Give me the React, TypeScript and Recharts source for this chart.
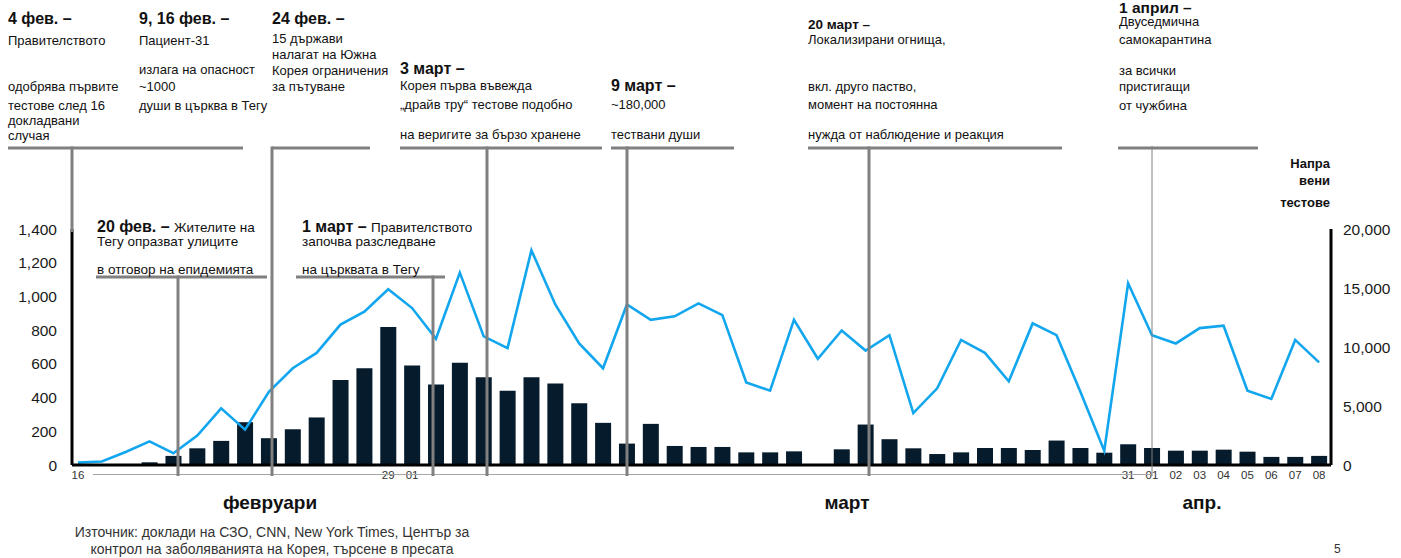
import { ComposedChart, Bar, Line, XAxis, YAxis } from 'recharts';

// daily categories, 16 Feb – 8 Apr 2020
const dates = [
  '16.02', '17.02', '18.02', '19.02', '20.02', '21.02', '22.02', '23.02', '24.02', '25.02',
  '26.02', '27.02', '28.02', '29.02',
  '01.03', '02.03', '03.03', '04.03', '05.03', '06.03', '07.03', '08.03', '09.03', '10.03',
  '11.03', '12.03', '13.03', '14.03', '15.03', '16.03', '17.03', '18.03', '19.03', '20.03',
  '21.03', '22.03', '23.03', '24.03', '25.03', '26.03', '27.03', '28.03', '29.03', '30.03',
  '31.03',
  '01.04', '02.04', '03.04', '04.04', '05.04', '06.04', '07.04', '08.04',
];

// new confirmed cases per day (left axis)
const newCases = [
  0, 0, 0, 16, 54, 99, 143, 254, 159, 212,
  282, 504, 574, 818,
  590, 477, 606, 520, 441, 520, 484, 367, 250, 127,
  244, 113, 107, 107, 75, 75, 81, 0, 93, 240,
  153, 99, 65, 75, 101, 101, 89, 145, 101, 73,
  123,
  101, 85, 85, 91, 79, 48, 48, 54,
];

// tests performed per day (right axis)
const testsDone = [
  200, 300, 1100, 2000, 1000, 2500, 4800, 3000, 6200, 8200,
  9500, 11900, 13000, 14900,
  13300, 10700, 16300, 10900, 9900, 18200, 13600, 10300, 8200, 13600,
  12300, 12600, 13700, 12700, 7000, 6300, 12300, 9000, 11400, 9700,
  11000, 4400, 6500, 10600, 9500, 7100, 12000, 11000, 6200, 1200,
  15400,
  11000, 10300, 11600, 11800, 6300, 5600, 10600, 8700,
];

const tickLabels: Record<string, string> = {
  '16.02': '16', '29.02': '29', '01.03': '01', '31.03': '31',
  '01.04': '01', '02.04': '02', '03.04': '03', '04.04': '04',
  '05.04': '05', '06.04': '06', '07.04': '07', '08.04': '08',
};

const casesTicks = [0, 200, 400, 600, 800, 1000, 1200, 1400];
const testsTicks = [0, 5000, 10000, 15000, 20000];

const data = dates.map((date, i) => ({ date, cases: newCases[i], tests: testsDone[i] }));

const FONT = "'Liberation Sans', Arial, Helvetica, sans-serif";
const GREY = '#808080';

type Note = { x: number; y: number; text: string; lead?: string; bold?: boolean; size?: number; anchor?: 'start' | 'end' | 'middle' };

// event notes above the chart
const notes: Note[] = [
  { x: 8, y: 24, text: '4 фев. –', bold: true, size: 16 },
  { x: 8, y: 44.5, text: 'Правителството' },
  { x: 8, y: 90.5, text: 'одобрява първите' },
  { x: 8, y: 109.5, text: 'тестове след 16' },
  { x: 8, y: 124.5, text: 'докладвани' },
  { x: 8, y: 139.5, text: 'случая' },

  { x: 139, y: 24, text: '9, 16 фев. –', bold: true, size: 16 },
  { x: 139, y: 44.5, text: 'Пациент-31' },
  { x: 139, y: 73.5, text: 'излага на опасност' },
  { x: 139, y: 90.5, text: '~1000' },
  { x: 139, y: 109.5, text: 'души в църква в Тегу' },

  { x: 272, y: 24, text: '24 фев. –', bold: true, size: 16 },
  { x: 272, y: 42.5, text: '15 държави' },
  { x: 272, y: 58.5, text: 'налагат на Южна' },
  { x: 272, y: 74.5, text: 'Корея ограничения' },
  { x: 272, y: 90.5, text: 'за пътуване' },

  { x: 400, y: 73.5, text: '3 март –', bold: true, size: 16 },
  { x: 400, y: 89.5, text: 'Корея първа въвежда' },
  { x: 400, y: 108.5, text: '„драйв тру“ тестове подобно' },
  { x: 400, y: 138.5, text: 'на веригите за бързо хранене' },

  { x: 611, y: 90.5, text: '9 март –', bold: true, size: 16 },
  { x: 611, y: 108.5, text: '~180,000' },
  { x: 611, y: 138.5, text: 'тествани души' },

  { x: 808, y: 29, text: '20 март –', bold: true, size: 13.5 },
  { x: 808, y: 44, text: 'Локализирани огнища,' },
  { x: 808, y: 90.5, text: 'вкл. друго паство,' },
  { x: 808, y: 108.5, text: 'момент на постоянна' },
  { x: 808, y: 138.5, text: 'нужда от наблюдение и реакция' },

  { x: 1119, y: 12.5, text: '1 април –', bold: true, size: 15.5 },
  { x: 1119, y: 26, text: 'Двуседмична' },
  { x: 1119, y: 43.5, text: 'самокарантина' },
  { x: 1119, y: 74.5, text: 'за всички' },
  { x: 1119, y: 90.5, text: 'пристигащи' },
  { x: 1119, y: 109.5, text: 'от чужбина' },

  // notes inside the plot
  { x: 97, y: 231.5, lead: '20 фев. – ', text: 'Жителите на', size: 13.5 },
  { x: 97, y: 245.5, text: 'Тегу опразват улиците', size: 13.5 },
  { x: 97, y: 273.5, text: 'в отговор на епидемията', size: 13.5 },
  { x: 302, y: 231.5, lead: '1 март – ', text: 'Правителството', size: 13.5 },
  { x: 302, y: 245.5, text: 'започва разследване', size: 13.5 },
  { x: 302, y: 273.5, text: 'на църквата в Тегу', size: 13.5 },

  // right axis title
  { x: 1330, y: 167.5, text: 'Напра', bold: true, anchor: 'end' },
  { x: 1330, y: 184.5, text: 'вени', bold: true, anchor: 'end' },
  { x: 1330, y: 206.5, text: 'тестове', bold: true, anchor: 'end' },
];

// bracket lines and their stems pointing at the dates
const brackets = [
  { x1: 8, x2: 243, y: 148 },
  { x1: 272, x2: 370, y: 148 },
  { x1: 400, x2: 602, y: 148 },
  { x1: 611, x2: 734, y: 148 },
  { x1: 808, x2: 1062, y: 148 },
  { x1: 1118, x2: 1258, y: 148 },
  { x1: 96, x2: 267, y: 277 },
  { x1: 296, x2: 445, y: 277 },
];
const stems = [
  { x: 72, y1: 146.5, y2: 232, w: 3 },
  { x: 178, y1: 275.5, y2: 476, w: 3 },
  { x: 272, y1: 146.5, y2: 476, w: 3 },
  { x: 433, y1: 275.5, y2: 476, w: 3 },
  { x: 487, y1: 146.5, y2: 476, w: 3 },
  { x: 627, y1: 146.5, y2: 476, w: 3 },
  { x: 869, y1: 146.5, y2: 476, w: 3 },
  { x: 1152, y1: 146, y2: 476, w: 1 },
];

const months = [
  { x: 270, text: 'февруари' },
  { x: 847, text: 'март' },
  { x: 1202, text: 'апр.' },
];

const fmt = (v: number) => v.toLocaleString('en-US');

function DateTick(props: any) {
  const { x, y, payload } = props;
  const label = tickLabels[payload.value];
  if (!label) return null;
  return (
    <text x={x} y={y + 10} textAnchor="middle" fontSize={11.5} fill="#333" fontFamily={FONT}>
      {label}
    </text>
  );
}

export default function App() {
  return (
    <div style={{ position: 'absolute', left: 0, top: 0, width: 1401, height: 558, background: '#fff', fontFamily: FONT }}>
      <ComposedChart width={1401} height={558} data={data} margin={{ top: 229, right: 0, bottom: 73, left: 0 }}>
        <XAxis
          dataKey="date"
          height={20}
          padding={{ left: -6, right: 0 }}
          axisLine={{ stroke: '#000', strokeWidth: 3 }}
          tickLine={false}
          tickSize={0}
          tickMargin={4}
          interval={0}
          tick={<DateTick />}
        />
        <YAxis
          yAxisId="cases"
          width={72}
          domain={[0, 1400]}
          ticks={casesTicks}
          tickFormatter={fmt}
          axisLine={{ stroke: '#000', strokeWidth: 3 }}
          tickLine={false}
          tickSize={0}
          tickMargin={15}
          tick={{ fill: '#1a1a1a', fontSize: 15.5, fontFamily: FONT }}
        />
        <YAxis
          yAxisId="tests"
          orientation="right"
          width={70}
          domain={[0, 20000]}
          ticks={testsTicks}
          tickFormatter={fmt}
          axisLine={{ stroke: '#000', strokeWidth: 3 }}
          tickLine={false}
          tickSize={0}
          tickMargin={12}
          tick={{ fill: '#1a1a1a', fontSize: 15.5, fontFamily: FONT, textAnchor: 'start' }}
        />
        <Bar yAxisId="cases" dataKey="cases" fill="#061b2b" barSize={16} isAnimationActive={false} />
        <Line
          yAxisId="tests"
          dataKey="tests"
          type="linear"
          stroke="#12a6ee"
          strokeWidth={2.6}
          dot={false}
          isAnimationActive={false}
        />
      </ComposedChart>

      <svg width={1401} height={558} style={{ position: 'absolute', left: 0, top: 0, pointerEvents: 'none' }}>
        <line x1={93} x2={1152} y1={474.5} y2={474.5} stroke="#a6a6a6" strokeWidth={1.2} />
        {brackets.map((b, i) => (
          <line key={`b${i}`} x1={b.x1} x2={b.x2} y1={b.y} y2={b.y} stroke={GREY} strokeWidth={3} />
        ))}
        {stems.map((s, i) => (
          <line key={`s${i}`} x1={s.x} x2={s.x} y1={s.y1} y2={s.y2} stroke={GREY} strokeWidth={s.w} />
        ))}
        {notes.map((n, i) => (
          <text
            key={`n${i}`}
            x={n.x}
            y={n.y}
            fontSize={n.size ?? 13}
            fontWeight={n.bold ? 700 : 400}
            textAnchor={n.anchor ?? 'start'}
            fill="#111"
            fontFamily={FONT}
          >
            {n.lead && <tspan fontWeight={700} fontSize={16}>{n.lead}</tspan>}
            {n.text}
          </text>
        ))}
        {months.map((m) => (
          <text key={m.text} x={m.x} y={509} textAnchor="middle" fontSize={19} fontWeight={700} fill="#111" fontFamily={FONT}>
            {m.text}
          </text>
        ))}
        <text x={272} y={537} textAnchor="middle" fontSize={14} fill="#333" fontFamily={FONT}>
          Източник: доклади на СЗО, CNN, New York Times, Център за
        </text>
        <text x={272} y={554} textAnchor="middle" fontSize={14} fill="#333" fontFamily={FONT}>
          контрол на заболяванията на Корея, търсене в пресата
        </text>
        <text x={1334} y={553} fontSize={12} fill="#333" fontFamily={FONT}>5</text>
      </svg>
    </div>
  );
}
